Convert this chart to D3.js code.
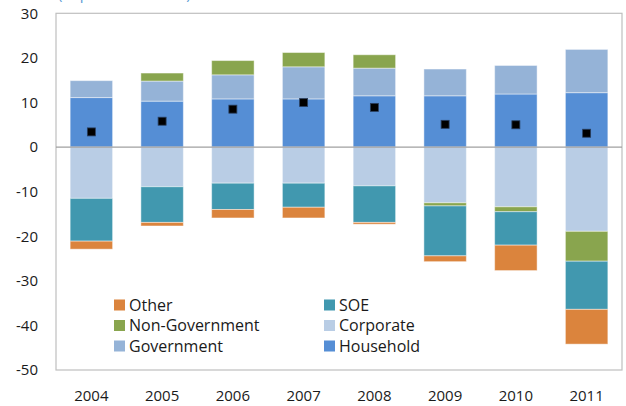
<!DOCTYPE html>
<html>
<head>
<meta charset="utf-8">
<script src="https://cdn.jsdelivr.net/npm/d3@7"></script>
<style>
  body { margin: 0; background: #fff; }
  svg { display: block; font-family: "Open Sans", sans-serif; }
</style>
</head>
<body>
<div id="chart"></div>
<script>
// values (percent of GDP)
var years = ["2004", "2005", "2006", "2007", "2008", "2009", "2010", "2011"];
var household = [11.1, 10.3, 10.8, 10.8, 11.5, 11.5, 11.9, 12.2];
var government = [3.8, 4.5, 5.4, 7.2, 6.2, 6.0, 6.4, 9.7];
var corporate = [-11.5, -8.9, -8.1, -8.1, -8.7, -12.5, -13.4, -18.9];
var nonGovernment = [0, 1.8, 3.2, 3.2, 3.0, -0.7, -1.1, -6.7];
var soe = [-9.6, -8.0, -5.9, -5.4, -8.2, -11.2, -7.5, -10.8];
var other = [-1.8, -0.8, -1.9, -2.4, -0.4, -1.3, -5.7, -7.8];
var total = [3.4, 5.8, 8.5, 10.0, 8.9, 5.1, 5.0, 3.1];
var yTicks = [30, 20, 10, 0, -10, -20, -30, -40, -50];

var width = 626;
var height = 406;
var margin = {left: 56, right: 4, top: 13.3, bottom: 36};

// stack order matters: corporate must sit closest to zero on the negative side
var series = [
    {key: "Household", values: household, color: "#558ED5"},
    {key: "Government", values: government, color: "#95B3D7"},
    {key: "Corporate", values: corporate, color: "#B9CDE5"},
    {key: "Non-Government", values: nonGovernment, color: "#89A54E"},
    {key: "SOE", values: soe, color: "#4198AF"},
    {key: "Other", values: other, color: "#DB843D"}
];

// legend layout, column by column as in the reference
var legendItems = [
    ["Other", "Non-Government", "Government"],
    ["SOE", "Corporate", "Household"]
];

var svg = d3.select("#chart").append("svg")
    .attr("width", width)
    .attr("height", height);

var x = d3.scaleBand()
    .domain(years)
    .range([margin.left, width - margin.right])
    .paddingInner(0.4)
    .paddingOuter(0.2);

var y = d3.scaleLinear()
    .domain([-50, 30])
    .range([height - margin.bottom, margin.top]);

// table for d3.stack
var table = years.map(function(yr, i) {
    var row = {year: yr};
    series.forEach(function(s) { row[s.key] = s.values[i]; });
    return row;
});

var stacked = d3.stack()
    .keys(series.map(function(s) { return s.key; }))
    .offset(d3.stackOffsetDiverging)(table);

var colorOf = {};
series.forEach(function(s) { colorOf[s.key] = s.color; });

// title, mostly cut off at the top edge (as in the reference)
svg.append("text")
    .attr("x", 58)
    .attr("y", -1)
    .style("font-size", "15px")
    .style("fill", "#5B9BD5")
    .text("(In percent of GDP)");

// plot area frame
svg.append("rect")
    .attr("x", margin.left)
    .attr("y", margin.top)
    .attr("width", width - margin.right - margin.left)
    .attr("height", height - margin.bottom - margin.top)
    .attr("fill", "none")
    .attr("stroke", "#BFBFBF")
    .attr("stroke-width", 1.2);

var layers = svg.append("g").selectAll("g")
    .data(stacked)
    .enter()
    .append("g")
    .attr("fill", function(d) { return colorOf[d.key]; });

layers.selectAll("rect")
    .data(function(d) { return d; })
    .enter()
    .append("rect")
    .attr("x", function(d) { return x(d.data.year); })
    .attr("width", x.bandwidth())
    .attr("y", function(d) { return y(d[1]); })
    .attr("height", function(d) { return Math.abs(y(d[0]) - y(d[1])); })
    .attr("stroke", "rgba(255,255,255,0.45)")
    .attr("stroke-width", 1);

// zero line
svg.append("line")
    .attr("x1", margin.left)
    .attr("x2", width - margin.right)
    .attr("y1", y(0))
    .attr("y2", y(0))
    .attr("stroke", "#A0A0A0")
    .attr("stroke-width", 1.2);

// net total markers
var mk = 8;
svg.append("g").selectAll("rect")
    .data(total)
    .enter()
    .append("rect")
    .attr("x", function(d, i) { return x(years[i]) + x.bandwidth() / 2 - mk / 2; })
    .attr("y", function(d) { return y(d) - mk / 2; })
    .attr("width", mk)
    .attr("height", mk)
    .attr("fill", "#000")
    .attr("stroke", "#2a3f5f")
    .attr("stroke-width", 0.8);

// y axis labels, no line or ticks; plain hyphen for negatives
var yAxis = d3.axisLeft(y)
    .tickValues(yTicks)
    .tickSize(0)
    .tickPadding(0)
    .tickFormat(function(d) { return String(d); });

var gy = svg.append("g")
    .attr("transform", "translate(38,0)")
    .call(yAxis);
gy.select(".domain").remove();
gy.selectAll("text")
    .style("font-size", "15px")
    .style("font-family", "'Open Sans', sans-serif")
    .attr("fill", "#1a1a1a");

// x axis labels
var xAxis = d3.axisBottom(x)
    .tickSize(0)
    .tickPadding(0);

var gx = svg.append("g")
    .attr("transform", "translate(0,390)")
    .call(xAxis);
gx.select(".domain").remove();
gx.selectAll("text")
    .style("font-size", "15px")
    .style("font-family", "'Open Sans', sans-serif")
    .attr("fill", "#1a1a1a");

// legend
var legendX = [114, 324];
var legendY = [305, 325.5, 346];
var legend = svg.append("g");
legendItems.forEach(function(col, c) {
    col.forEach(function(name, r) {
        legend.append("rect")
            .attr("x", legendX[c])
            .attr("y", legendY[r] - 5.5)
            .attr("width", 11)
            .attr("height", 11)
            .attr("fill", colorOf[name]);
        legend.append("text")
            .attr("x", legendX[c] + 15)
            .attr("y", legendY[r])
            .attr("dy", "0.35em")
            .style("font-size", "16px")
            .attr("fill", "#1a1a1a")
            .text(name);
    });
});
</script>
</body>
</html>
